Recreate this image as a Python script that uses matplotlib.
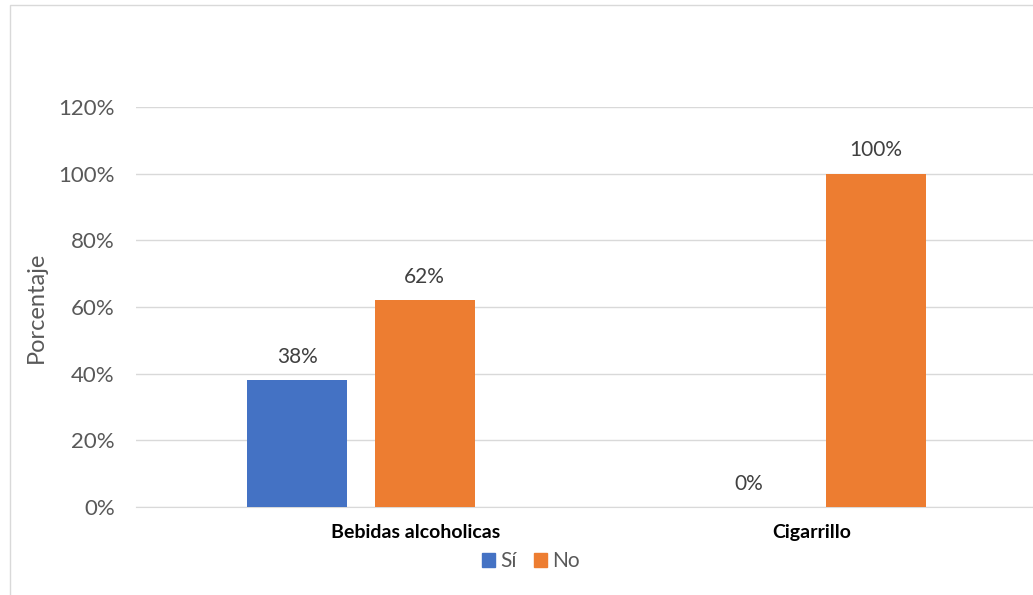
import matplotlib.pyplot as plt
import matplotlib.patches as mpatches
import matplotlib.transforms as mtransforms
from matplotlib.ticker import PercentFormatter

categories = ["Bebidas alcoholicas", "Cigarrillo"]
si_values = [38, 0]
no_values = [62, 100]
series_names = ["Sí", "No"]
yticks = [0, 20, 40, 60, 80, 100, 120]

BLUE = "#4472C4"
ORANGE = "#ED7D31"
TEXT = "#595959"
GRID = "#D9D9D9"

plt.rcParams['font.family'] = ['Lato', 'DejaVu Sans']

W, H = 1033, 595
fig = plt.figure(figsize=(W / 100, H / 100), dpi=100, facecolor='w')

# outer chart border
fig.add_artist(mpatches.Rectangle((10 / W, -0.01), 1.02, 1 - 5 / H + 0.01,
                                  transform=fig.transFigure, fill=False,
                                  edgecolor=GRID, linewidth=1))

left, right = 135.5 / W, 1037.5 / W
bottom, top = 1 - 507 / H, 1 - 107 / H
ax = fig.add_axes([left, bottom, right - left, top - bottom])

x = list(range(len(categories)))
width = 0.222
offset = 0.141

bars_si = ax.bar([i - offset for i in x], si_values, width, color=BLUE, zorder=3)
bars_no = ax.bar([i + offset for i in x], no_values, width, color=ORANGE, zorder=3)

for bars in (bars_si, bars_no):
    for b in bars:
        h = b.get_height()
        ax.text(b.get_x() + b.get_width() / 2, h + 4, f"{h:.0f}%",
                ha='center', va='bottom', fontsize=15, color="#404040")

ax.set_xlim(-0.5, 1.5)
ax.set_ylim(0, 120)
ax.set_yticks(yticks)
ax.yaxis.set_major_formatter(PercentFormatter(decimals=0))
ax.yaxis.grid(True, color=GRID, linewidth=1, zorder=0)
ax.set_axisbelow(True)

ax.set_xticks(x)
ax.set_xticklabels(categories, fontweight='bold', fontsize=14, color='black')
ax.tick_params(axis='x', length=0, pad=12)
ax.tick_params(axis='y', length=0, pad=15, labelsize=16, labelcolor=TEXT)

# the first category label sits a bit to the right in the original
lbl = ax.get_xticklabels()[0]
lbl.set_transform(lbl.get_transform() +
                  mtransforms.ScaledTranslation(0.55, 0, fig.dpi_scale_trans))

for s in ['top', 'right', 'left']:
    ax.spines[s].set_visible(False)
ax.spines['bottom'].set_color(GRID)

ax.set_ylabel("Porcentaje", fontsize=17, color=TEXT)
ax.yaxis.set_label_coords(-0.098, 0.5)

handles = [mpatches.Patch(color=BLUE, label=series_names[0]),
           mpatches.Patch(color=ORANGE, label=series_names[1])]
fig.legend(handles=handles, loc='center', bbox_to_anchor=(531 / W, 1 - 561 / H),
           ncol=2, frameon=False, fontsize=15, handlelength=0.65,
           handleheight=0.65, handletextpad=0.25, columnspacing=0.8,
           labelcolor=TEXT)

fig.savefig("out.png", dpi=100)
